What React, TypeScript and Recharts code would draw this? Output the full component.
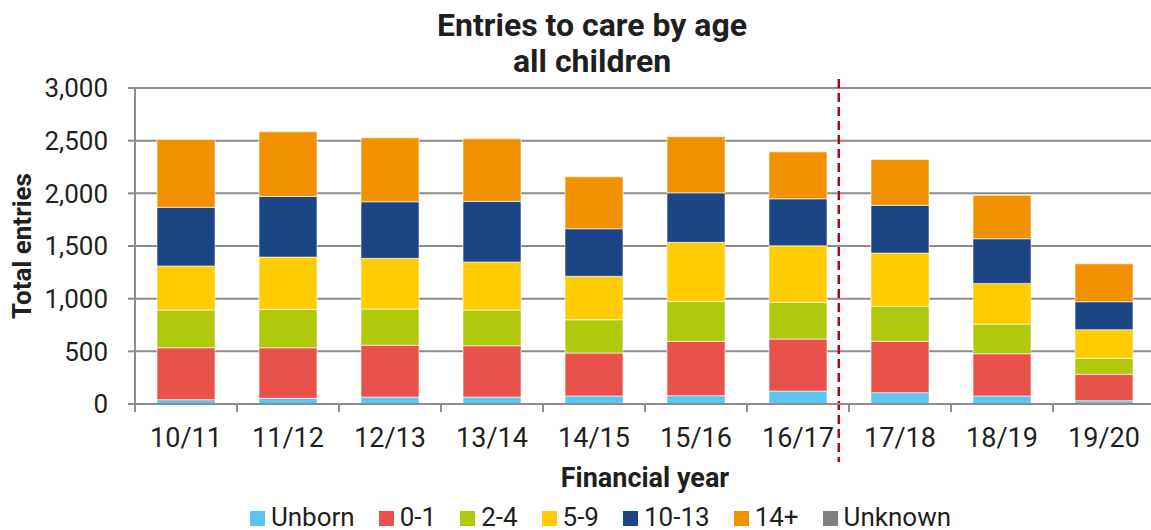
import { Bar, BarChart, CartesianGrid, Legend, ReferenceLine, XAxis, YAxis } from "recharts";

const years = ["10/11", "11/12", "12/13", "13/14", "14/15", "15/16", "16/17", "17/18", "18/19", "19/20"];
const unborn = [41, 54, 66, 66, 76, 79, 123, 107, 76, 31];
const age0to1 = [493, 480, 491, 487, 408, 516, 494, 488, 401, 251];
const age2to4 = [358, 365, 345, 339, 316, 379, 348, 332, 282, 152];
const age5to9 = [418, 496, 481, 456, 412, 561, 537, 506, 386, 271];
const age10to13 = [557, 576, 537, 576, 452, 470, 446, 453, 424, 266];
const age14plus = [645, 613, 607, 594, 493, 532, 446, 436, 412, 360];
const unknown = [0, 0, 0, 0, 0, 0, 0, 0, 0, 0];
const yTicks = [0, 500, 1000, 1500, 2000, 2500, 3000];
// the dashed divider sits just before 17/18, in category units
const splitAt = 6.9;

const series = [
  { key: "unborn", name: "Unborn", color: "#5BC5F2" },
  { key: "a01", name: "0-1", color: "#E9524A" },
  { key: "a24", name: "2-4", color: "#B0CA0B" },
  { key: "a59", name: "5-9", color: "#FFCC00" },
  { key: "a1013", name: "10-13", color: "#1B4584" },
  { key: "a14", name: "14+", color: "#F29100" },
  { key: "unknown", name: "Unknown", color: "#808080" },
];

const data = years.map((year, i) => ({
  year,
  slot: i + 0.5,
  unborn: unborn[i],
  a01: age0to1[i],
  a24: age2to4[i],
  a59: age5to9[i],
  a1013: age10to13[i],
  a14: age14plus[i],
  unknown: unknown[i],
}));

// category edges, for the little tick marks under the axis
const boundaries = [...years.map((_, i) => i), years.length];

const GRID = "#8c8c8c";
const TEXT = "#1f1f1f";

function LegendRow() {
  return (
    <div
      style={{
        display: "flex",
        justifyContent: "center",
        alignItems: "center",
        height: 43,
        paddingTop: 16,
        paddingLeft: 70,
        boxSizing: "border-box",
        fontSize: 26,
        color: TEXT,
        lineHeight: "30px",
      }}
    >
      {series.map((s) => (
        <span key={s.key} style={{ display: "flex", alignItems: "center", marginRight: 24 }}>
          <span style={{ width: 15, height: 15, background: s.color, marginRight: 6, marginTop: 3 }} />
          {s.name}
        </span>
      ))}
    </div>
  );
}

function DashedSplit(p: any) {
  const top = Math.min(p.y1, p.y2);
  const bottom = Math.max(p.y1, p.y2);
  return (
    <line
      x1={p.x1}
      x2={p.x2}
      y1={top - 9}
      y2={bottom + 58}
      stroke="#C00000"
      strokeWidth={2.5}
      strokeDasharray="9 5"
    />
  );
}

function EdgeTick(p: any) {
  const bottom = Math.max(p.y1, p.y2);
  return <line x1={p.x1} x2={p.x2} y1={bottom} y2={bottom + 8} stroke={GRID} strokeWidth={2} />;
}

export default function App() {
  return (
    <div
      style={{
        position: "absolute",
        left: 0,
        top: 0,
        width: 1151,
        height: 530,
        overflow: "hidden",
        background: "#fff",
        fontFamily: "Roboto, sans-serif",
      }}
    >
      <div
        style={{
          position: "absolute",
          top: 7,
          left: 392,
          width: 400,
          textAlign: "center",
          fontSize: 32,
          fontWeight: 700,
          lineHeight: "36px",
          color: TEXT,
          zIndex: 1,
        }}
      >
        Entries to care by age
        <br />
        all children
      </div>
      <BarChart
        width={1156}
        height={530}
        data={data}
        margin={{ top: 88, right: 1, left: 0, bottom: 0 }}
        style={{ fontFamily: "Roboto, sans-serif" }}
      >
        <CartesianGrid vertical={false} stroke={GRID} strokeWidth={2} yAxisId="y" xAxisId="cat" />
        <XAxis
          xAxisId="edges"
          dataKey="slot"
          type="number"
          domain={[0, years.length]}
          hide
          height={0}
        />
        <XAxis
          xAxisId="cat"
          dataKey="year"
          height={83}
          tickLine={false}
          tickSize={0}
          tickMargin={24}
          axisLine={{ stroke: GRID, strokeWidth: 2 }}
          tick={{ fill: TEXT, fontSize: 27 }}
          label={{
            value: "Financial year",
            position: "insideBottom",
            offset: 0,
            fill: TEXT,
            fontSize: 27,
            fontWeight: 700,
          }}
        />
        <YAxis
          yAxisId="y"
          width={135}
          domain={[0, 3000]}
          ticks={yTicks}
          tickSize={7}
          tickMargin={20}
          axisLine={{ stroke: GRID, strokeWidth: 2 }}
          tickLine={{ stroke: GRID, strokeWidth: 2 }}
          tick={{ fill: TEXT, fontSize: 26 }}
          tickFormatter={(v: number) => v.toLocaleString("en-US")}
          label={{
            value: "Total entries",
            angle: -90,
            position: "insideLeft",
            offset: 22,
            fill: TEXT,
            fontSize: 26,
            fontWeight: 700,
            style: { textAnchor: "middle" },
          }}
        />
        <Legend verticalAlign="bottom" height={43} content={() => <LegendRow />} />
        {series.map((s) => (
          <Bar
            key={s.key}
            dataKey={s.key}
            name={s.name}
            stackId="ages"
            xAxisId="cat"
            yAxisId="y"
            fill={s.color}
            stroke="#ffffff"
            strokeOpacity={0.6}
            strokeWidth={1}
            barSize={58}
            isAnimationActive={false}
          />
        ))}
        {boundaries.map((b) => (
          <ReferenceLine
            key={`edge-${b}`}
            xAxisId="edges"
            yAxisId="y"
            x={b}
            ifOverflow="visible"
            shape={EdgeTick}
          />
        ))}
        <ReferenceLine
          xAxisId="edges"
          yAxisId="y"
          x={splitAt}
          ifOverflow="visible"
          shape={DashedSplit}
        />
      </BarChart>
    </div>
  );
}
